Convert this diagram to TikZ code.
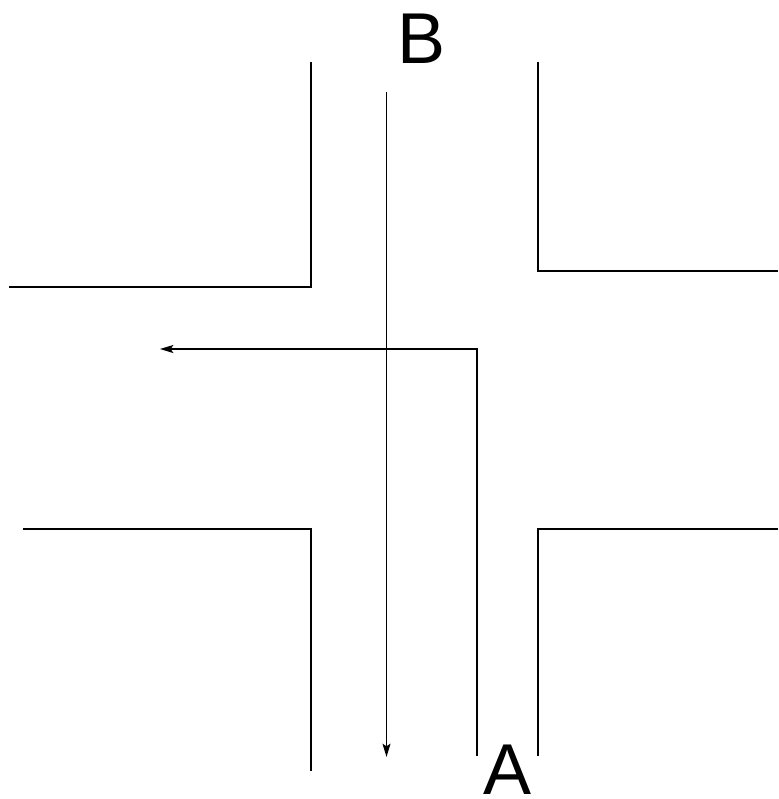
\documentclass[tikz,border=0pt]{standalone}
\usepackage{fontspec}
\setmainfont{Liberation Sans}
\usetikzlibrary{arrows.meta}
\begin{document}
\begin{tikzpicture}[x=0.75pt,y=-0.75pt,
  wall/.style={line width=1.5pt,black},
  route/.style={line width=1.2pt,black,-{Stealth[length=10pt,width=6pt,inset=2pt]}},
  lbl/.style={font=\fontsize{54}{60}\selectfont,inner sep=0pt,anchor=base}]
\useasboundingbox (0,0) rectangle (778,799);
% walls
\draw[wall] (311,62) -- (311,287) -- (9,287);
\draw[wall] (538,62) -- (538,271) -- (778,271);
\draw[wall] (23,529) -- (311,529) -- (311,771);
\draw[wall] (778,529) -- (538,529) -- (538,756);
% labels
\node[lbl] (B) at (422,64) {B};
\node[lbl] (A) at (508,794) {A};
% routes
\coordinate (bstart) at (386.5,92);
\coordinate (bend) at (386.5,757);
\coordinate (astart) at (477,756);
\coordinate (aturn) at (477,349);
\coordinate (aend) at (160,349);
\draw[route] (bstart) -- (bend);
\draw[route] (astart) -- (aturn) -- (aend);
\end{tikzpicture}
\end{document}
